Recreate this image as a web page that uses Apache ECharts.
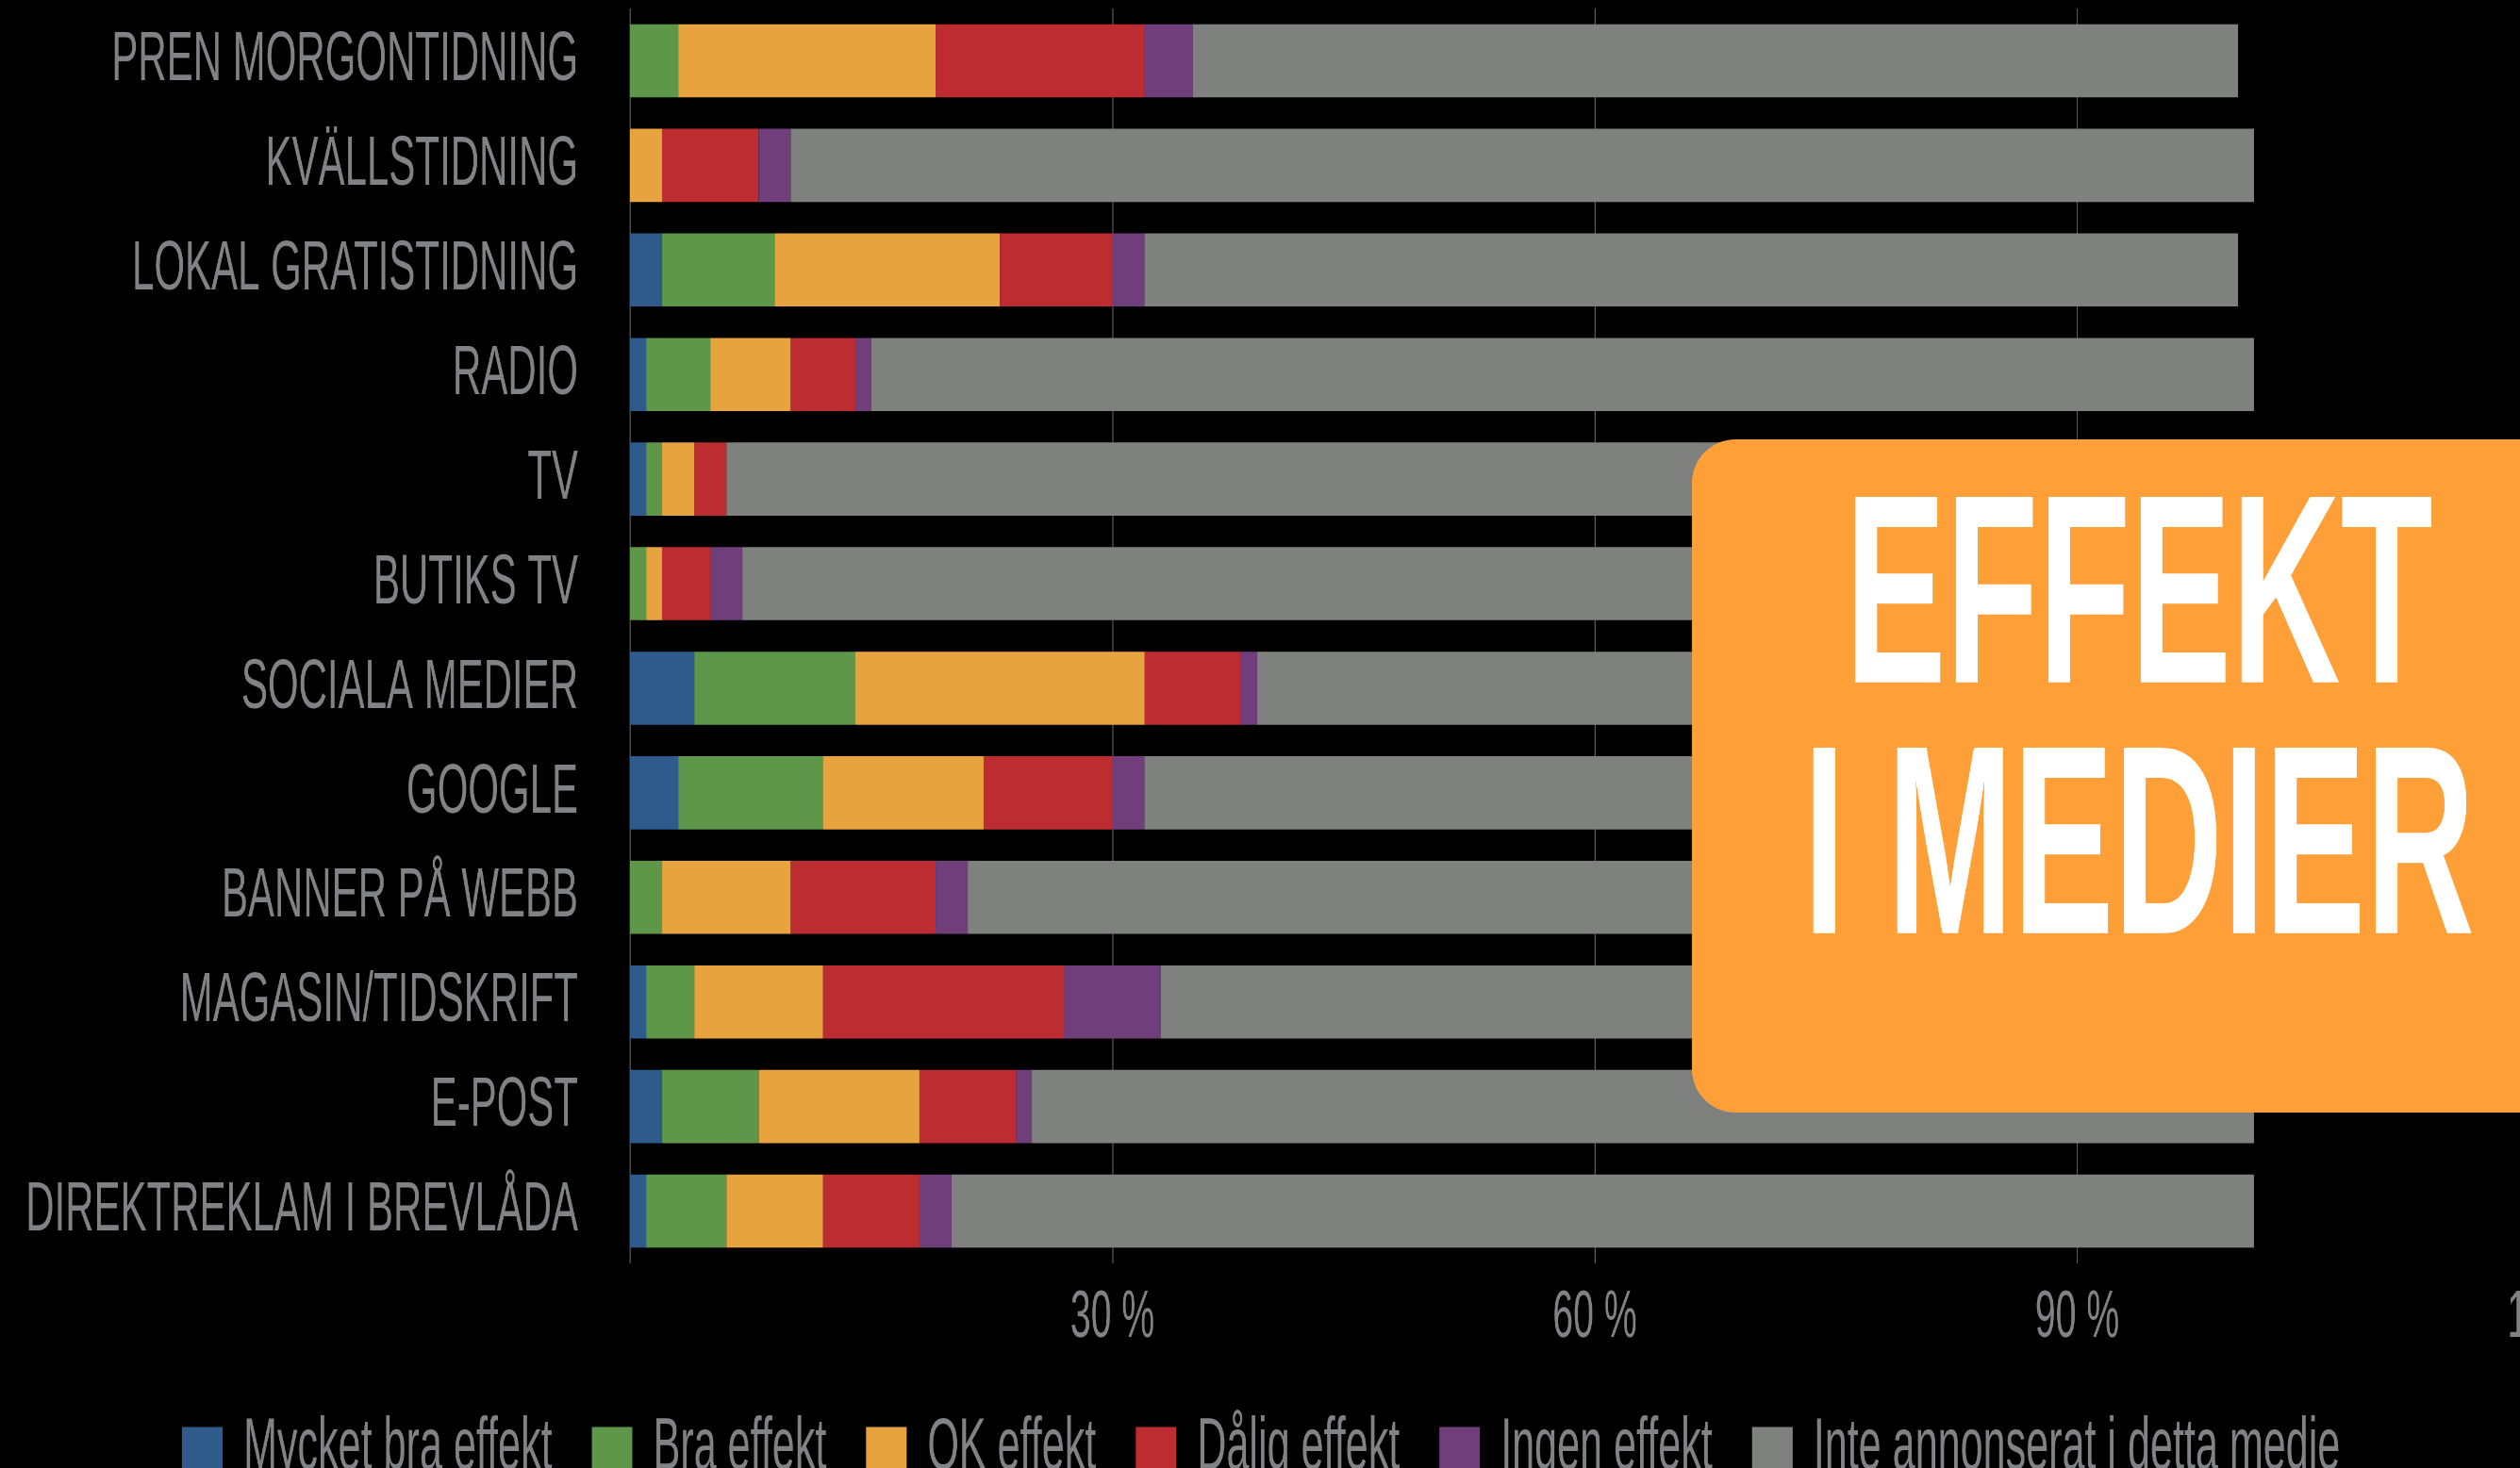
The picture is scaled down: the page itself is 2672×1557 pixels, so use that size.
<!DOCTYPE html>
<html>
<head>
<meta charset="utf-8">
<title>Effekt i medier</title>
<script src="https://cdn.jsdelivr.net/npm/echarts@6/dist/echarts.min.js"></script>
<style>
  html, body { margin: 0; padding: 0; background: #000; overflow: hidden; }
  /* diagrammet ritas bredare och trycks ihop i x-led, så att texten blir smal (som DIN Condensed) */
  #main { width: 4772px; height: 1557px; transform: scaleX(0.56); transform-origin: 0 0; }
</style>
</head>
<body>
<div id="main"></div>
<script>
// kategorier (medier)
var categories = ['PREN MORGONTIDNING', 'KVÄLLSTIDNING', 'LOKAL GRATISTIDNING', 'RADIO', 'TV', 'BUTIKS TV',
    'SOCIALA MEDIER', 'GOOGLE', 'BANNER PÅ WEBB', 'MAGASIN/TIDSKRIFT', 'E-POST', 'DIREKTREKLAM I BREVLÅDA'];

// andelar i procent, uppifrån och ner
var mycketBra = [0, 0, 2, 1, 1, 0, 4, 3, 0, 1, 2, 1];
var bra       = [3, 0, 7, 4, 1, 1, 10, 9, 2, 3, 6, 5];
var okEffekt  = [16, 2, 14, 5, 2, 1, 18, 10, 8, 8, 10, 6];
var dalig     = [13, 6, 7, 4, 2, 3, 6, 8, 9, 15, 6, 6];
var ingen     = [3, 2, 2, 1, 0, 2, 1, 2, 2, 6, 1, 2];
var inte      = [65, 91, 68, 86, 94, 93, 61, 68, 79, 67, 76, 81];

var seriesNames = ['Mycket bra effekt', 'Bra effekt', 'OK effekt', 'Dålig effekt', 'Ingen effekt', 'Inte annonserat i detta medie'];
var seriesData = [mycketBra, bra, okEffekt, dalig, ingen, inte];
var colors = ['#2e5a8c', '#5e964a', '#e7a33e', '#bc2c31', '#6f3e7b', '#7f817f'];

// samma faktor som i CSS:en ovan
var squeeze = 0.56;
function sx(v) { return v / squeeze; }

var font = '"Liberation Sans", Arial, sans-serif';
var textGray = '#808383';

var chart = echarts.init(document.getElementById('main'));

var series = [];
for (var i = 0; i < seriesNames.length; i++) {
    series.push({
        name: seriesNames[i],
        type: 'bar',
        stack: 'total',
        barCategoryGap: '30%',
        itemStyle: { color: colors[i] },
        data: seriesData[i]
    });
}

var option = {
    backgroundColor: '#000',
    animation: false,
    color: colors,
    grid: {
        left: sx(668),
        top: 9,
        width: sx(2046),
        height: 1331,
        outerBoundsMode: 'none'
    },
    legend: {
        data: seriesNames,
        left: sx(193),
        top: 1498,
        padding: 0,
        icon: 'rect',
        itemWidth: sx(43),
        itemHeight: 46,
        itemGap: sx(42),
        textStyle: {
            color: textGray,
            fontSize: 77,
            fontFamily: font,
            padding: [0, 0, 0, sx(22) - 5]
        }
    },
    xAxis: {
        type: 'value',
        min: 0,
        max: 120,
        interval: 30,
        axisLine: { show: false },
        axisTick: { show: false },
        splitLine: { lineStyle: { color: '#5a5a5a', width: 2 } },
        axisLabel: {
            formatter: '{value} %',
            showMinLabel: false,
            color: textGray,
            fontSize: 70,
            fontFamily: font,
            margin: 24
        }
    },
    yAxis: {
        type: 'category',
        inverse: true,
        data: categories,
        axisLine: { show: false },
        axisTick: { show: false },
        axisLabel: {
            color: textGray,
            fontSize: 75,
            fontFamily: font,
            margin: sx(55)
        }
    },
    // orange rutan med rubriken (rutan skalas tillbaka så att hörnen blir runda)
    graphic: [{
        type: 'rect',
        z: 100,
        x: sx(1794),
        y: 0,
        scaleX: 1 / squeeze,
        shape: { x: 0, y: 466, width: 1000, height: 714, r: 46 },
        style: { fill: '#fe9f37' }
    }, {
        type: 'text',
        z: 101,
        x: sx(2268),
        y: 645,
        style: {
            text: 'EFFEKT',
            x: 0, y: 0,
            align: 'center',
            verticalAlign: 'middle',
            fill: '#fff',
            font: 'bold 286px "Liberation Sans", sans-serif'
        }
    }, {
        type: 'text',
        z: 101,
        x: sx(2268),
        y: 911,
        style: {
            text: 'I MEDIER',
            x: 0, y: 0,
            align: 'center',
            verticalAlign: 'middle',
            fill: '#fff',
            font: 'bold 286px "Liberation Sans", sans-serif'
        }
    }],
    series: series
};

chart.setOption(option);
</script>
</body>
</html>
